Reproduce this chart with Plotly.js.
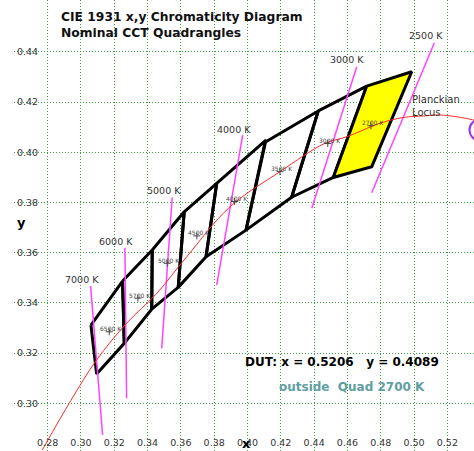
<!DOCTYPE html>
<html>
<head>
<meta charset="utf-8">
<script src="https://cdn.plot.ly/plotly-3.0.1.min.js"></script>
<style>html,body{margin:0;padding:0;background:#fff;}#chart{width:474px;height:451px;}</style>
</head>
<body>
<div id="chart"></div>
<script>
// ---- Data ----
const xTicks = [0.28,0.30,0.32,0.34,0.36,0.38,0.40,0.42,0.44,0.46,0.48,0.50,0.52];
const yTicks = [0.30,0.32,0.34,0.36,0.38,0.40,0.42,0.44];

// Quadrangle names and corners (top-left, top-right, bottom-right, bottom-left)
const quadNames = ["6500 K","5700 K","5000 K","4500 K","4000 K","3500 K","3000 K","2700 K"];
const quadX = [
  [0.3060,0.3250,0.3260,0.3094],
  [0.3250,0.3428,0.3425,0.3260],
  [0.3428,0.3620,0.3584,0.3425],
  [0.3620,0.3815,0.3751,0.3584],
  [0.3815,0.4111,0.3991,0.3751],
  [0.4105,0.4425,0.4265,0.3991],
  [0.4425,0.4716,0.4515,0.4265],
  [0.4716,0.4986,0.4746,0.4515]
];
const quadY = [
  [0.3312,0.3487,0.3239,0.3117],
  [0.3487,0.3611,0.3375,0.3239],
  [0.3611,0.3763,0.3462,0.3375],
  [0.3763,0.3876,0.3584,0.3462],
  [0.3876,0.4049,0.3690,0.3584],
  [0.4040,0.4165,0.3821,0.3690],
  [0.4165,0.4264,0.3900,0.3821],
  [0.4264,0.4321,0.3943,0.3900]
];
const highlightQuad = "2700 K";

// Quad centres
const centerX = [0.3170,0.3342,0.3518,0.3696,0.3923,0.4195,0.4482,0.4741];
const centerY = [0.3285,0.3419,0.3558,0.3667,0.3804,0.3923,0.4035,0.4106];

// Planckian locus
const locusX = [0.2768,0.2940,0.3094,0.3274,0.3455,0.3635,0.3895,0.4195,0.4465,0.4596,0.4796,0.4936,0.5056,0.5156,0.5316,0.5397];
const locusY = [0.2814,0.3012,0.3173,0.3319,0.3438,0.3584,0.3783,0.3923,0.4036,0.4062,0.4116,0.4139,0.4145,0.4149,0.4135,0.4121];

// Isotherm (CCT) lines: top and bottom end points
const isoNames = ["7000 K","6000 K","5000 K","4000 K","3000 K","2500 K"];
const isoX1 = [0.3058,0.3264,0.3548,0.3971,0.4656,0.5122];
const isoY1 = [0.3467,0.3620,0.3821,0.4069,0.4341,0.4437];
const isoX2 = [0.3130,0.3274,0.3485,0.3815,0.4386,0.4746];
const isoY2 = [0.2874,0.3020,0.3219,0.3471,0.3777,0.3839];
const isoLabelX = [0.3004,0.3210,0.3499,0.3919,0.4600,0.5072];
const isoLabelY = [0.3494,0.3644,0.3846,0.4093,0.4368,0.4467];

// DUT
const dutX = 0.5206, dutY = 0.4089;
const dutMarkX = [0.5396], dutMarkY = [0.4089];
const dutStatus = "outside\u00a0\u00a0Quad 2700 K";

const titleText = "CIE 1931 x,y Chromaticity Diagram<br>Nominal CCT Quadrangles";

// ---- Traces ----
const traces = [];
quadNames.forEach((n,i)=>{
  const hl = n === highlightQuad;
  traces.push({
    type:'scatter', mode:'lines',
    x: quadX[i].concat([quadX[i][0]]),
    y: quadY[i].concat([quadY[i][0]]),
    line:{color:'#000', width:3},
    fill: hl ? 'toself' : 'none',
    fillcolor:'#ffff00',
    hoverinfo:'skip'
  });
});
isoNames.forEach((n,i)=>{
  traces.push({
    type:'scatter', mode:'lines',
    x:[isoX1[i], isoX2[i]], y:[isoY1[i], isoY2[i]],
    line:{color:'#ff44ff', width:1.5}, hoverinfo:'skip'
  });
});
traces.push({
  type:'scatter', mode:'lines', x:locusX, y:locusY,
  line:{color:'#ff2a2a', width:1, shape:'spline'}, hoverinfo:'skip'
});
traces.push({
  type:'scatter', mode:'markers', x:centerX, y:centerY,
  marker:{symbol:'cross-thin', size:5, line:{color:'#444', width:1}}, hoverinfo:'skip'
});
traces.push({
  type:'scatter', mode:'markers', x:dutMarkX, y:dutMarkY,
  marker:{symbol:'circle-open', size:21, color:'#9933ee', line:{color:'#9933ee', width:2}},
  hoverinfo:'skip', cliponaxis:true
});

// ---- Annotations ----
const ann = [];
isoNames.forEach((n,i)=>{
  ann.push({x:isoLabelX[i], y:isoLabelY[i], text:n, showarrow:false,
    xanchor:'center', yanchor:'middle', font:{family:'DejaVu Sans', size:9.5, color:'#333'}});
});
quadNames.forEach((n,i)=>{
  ann.push({x:centerX[i], y:centerY[i], text:n, showarrow:false, xshift:2, yshift:3,
    xanchor:'center', yanchor:'middle', font:{family:'DejaVu Sans', size:6, color:'#444'}});
});
ann.push({x:0.4988, y:0.4184, text:'Planckian<br>Locus', showarrow:false, align:'left',
  xanchor:'left', yanchor:'middle', xshift:-2, font:{family:'DejaVu Sans', size:10, color:'#333'}});
ann.push({xref:'paper', yref:'paper', x:(59-14)/460, y:1-8/451, text:titleText,
  showarrow:false, align:'left', xanchor:'left', yanchor:'top',
  font:{family:'DejaVu Sans', size:12.3, color:'#111', weight:'bold'}});
ann.push({xref:'paper', yref:'paper', x:(243-14)/460, y:1-361.7/451,
  text:'DUT: x = ' + dutX.toFixed(4) + '\u00a0\u00a0\u00a0y = ' + dutY.toFixed(4),
  showarrow:false, xanchor:'left', yanchor:'middle',
  font:{family:'DejaVu Sans', size:12, color:'#000', weight:'bold'}});
ann.push({xref:'paper', yref:'paper', x:(276.7-14)/460, y:1-387.3/451,
  text:dutStatus, showarrow:false, xanchor:'left', yanchor:'middle',
  font:{family:'DejaVu Sans', size:12, color:'#5f9ea0', weight:'bold'}});
ann.push({xref:'paper', yref:'paper', x:(246-14)/460, y:1-443/451, text:'x', showarrow:false,
  xanchor:'center', yanchor:'middle', font:{family:'DejaVu Sans', size:13, color:'#000', weight:'bold'}});
ann.push({xref:'paper', yref:'paper', x:(21-14)/460, y:1-223/451, text:'y', showarrow:false,
  xanchor:'center', yanchor:'middle', font:{family:'DejaVu Sans', size:13, color:'#000', weight:'bold'}});

const layout = {
  width:474, height:451,
  margin:{l:14, r:0, t:0, b:0},
  paper_bgcolor:'#fff', plot_bgcolor:'#fff',
  showlegend:false,
  xaxis:{range:[0.2598,0.5360], tickvals:xTicks, ticktext:xTicks.map(v=>v.toFixed(2)),
    ticklabelposition:'inside', ticks:'', showline:false, zeroline:false,
    showgrid:true, gridcolor:'#3a9e3a', griddash:'1px,2px', gridwidth:1,
    tickfont:{family:'DejaVu Sans', size:9.5, color:'#333'}, fixedrange:true},
  yaxis:{range:[0.2810,0.4607], tickvals:yTicks, ticktext:yTicks.map(v=>v.toFixed(2)),
    ticklabelposition:'inside', ticks:'', showline:false, zeroline:false,
    showgrid:true, gridcolor:'#3a9e3a', griddash:'1px,2px', gridwidth:1,
    tickfont:{family:'DejaVu Sans', size:9.5, color:'#333'}, fixedrange:true},
  annotations:ann
};

Plotly.newPlot('chart', traces, layout, {displayModeBar:false, staticPlot:true});
</script>
</body>
</html>
